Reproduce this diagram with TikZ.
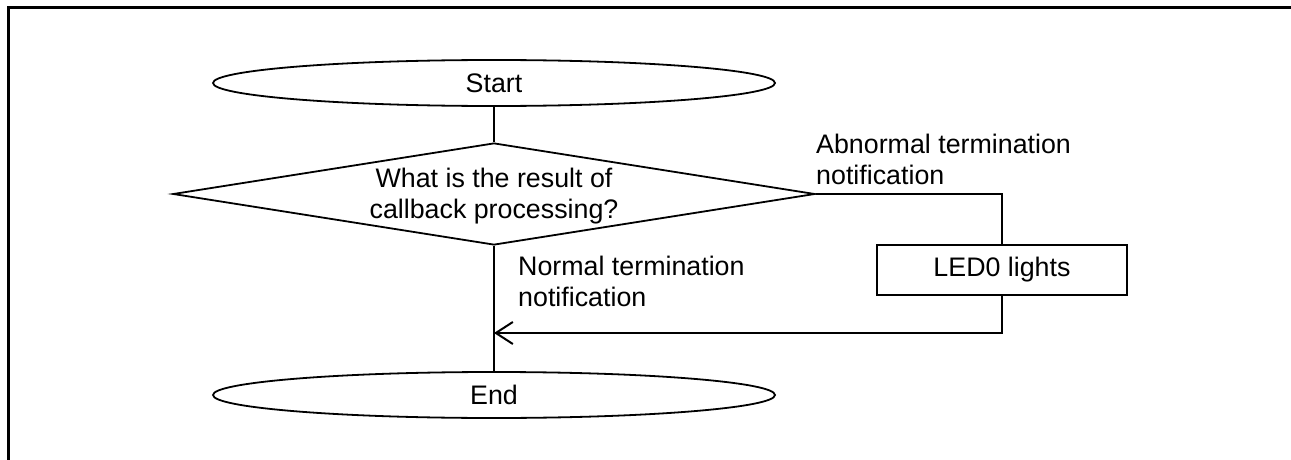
\documentclass[tikz,border=0pt]{standalone}
\usepackage{fontspec}
\setmainfont{Liberation Sans}
\usetikzlibrary{shapes.geometric,arrows.meta}
\begin{document}
\begin{tikzpicture}[x=1pt,y=1pt,
  txt/.style={font=\fontsize{26.8}{31}\selectfont,inner sep=0pt},
  term/.style={ellipse,draw,line width=1.8pt,minimum width=562pt,minimum height=46pt,inner sep=0pt,font=\fontsize{26.8}{31}\selectfont},
  decis/.style={diamond,draw,line width=1.8pt,minimum width=642pt,minimum height=102pt,inner sep=0pt},
  proc/.style={rectangle,draw,line width=2pt,minimum width=250pt,minimum height=50pt,inner sep=0pt,font=\fontsize{26.8}{31}\selectfont},
  flow/.style={line width=1.8pt},
  frame/.style={line width=3pt}]
\useasboundingbox (0,0) rectangle (1291,-460);
\coordinate (fbl) at (8,-460);
\coordinate (ftl) at (8,-8);
\coordinate (ftr) at (1291,-8);
\draw[frame] (fbl) -- (ftl) -- (ftr);
\node[term] (start) at (494,-83) {Start};
\node[decis] (dec) at (494,-194) {};
\node[txt,align=center,anchor=north] (dectext) at (494,-168) {What is the result of\\callback processing?};
\node[proc] (led) at (1002,-270) {LED0 lights};
\node[term] (end) at (494,-395) {End};
\coordinate (merge) at (494,-333);
\node[txt,align=left,anchor=north west] (abn) at (816,-133.5) {Abnormal termination\\notification};
\node[txt,align=left,anchor=north west] (nor) at (518,-256) {Normal termination\\notification};
\draw[flow] (start.south) -- (dec.north);
\draw[flow] (dec.east) -| (led.north);
\draw[flow] (dec.south) -- (end.north);
\draw[flow,line width=2.4pt,-{Straight Barb[length=17pt,width=22pt,line width=2pt]}] (led.south) |- (merge);
\end{tikzpicture}
\end{document}
